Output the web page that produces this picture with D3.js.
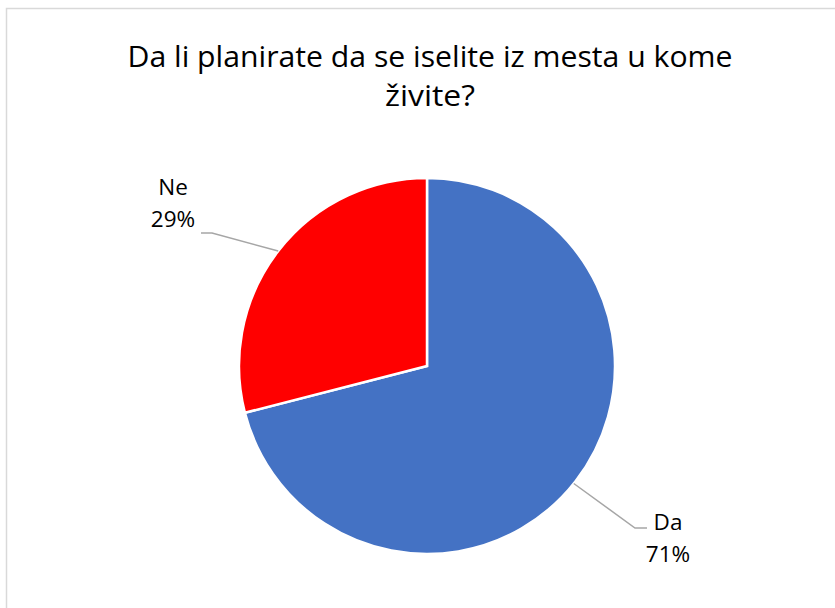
<!DOCTYPE html>
<html>
<head>
<meta charset="utf-8">
<script src="https://cdn.jsdelivr.net/npm/d3@7"></script>
<style>
  html, body { margin: 0; padding: 0; background: #fff; }
  svg { display: block; font-family: "Open Sans", "Liberation Sans", sans-serif; }
</style>
</head>
<body>
<div id="chart"></div>
<script>
// chart data
const titleLines = ['Da li planirate da se iselite iz mesta u kome', 'živite?'];
const titleWidths = [605, 90];
const categories = ['Da', 'Ne'];
const values = [71, 29];
const colors = ['#4472C4', '#FF0000'];

const width = 835, height = 608;
const cx = 427, cy = 366, radius = 188;

const svg = d3.select('#chart')
  .append('svg')
  .attr('width', width)
  .attr('height', height);

// chart area border
svg.append('rect')
  .attr('x', 6.5).attr('y', 8.5)
  .attr('width', 900).attr('height', 700)
  .attr('fill', '#fff')
  .attr('stroke', '#d9d9d9')
  .attr('stroke-width', 1.5);

// title
svg.append('g')
  .selectAll('text')
  .data(titleLines)
  .join('text')
    .attr('x', 430)
    .attr('y', (d, i) => 67 + i * 39)
    .attr('text-anchor', 'middle')
    .attr('font-size', 28.5)
    .attr('fill', '#000')
    .attr('textLength', (d, i) => titleWidths[i])
    .attr('lengthAdjust', 'spacingAndGlyphs')
    .text(d => d);

const data = categories.map((c, i) => ({ name: c, value: values[i], color: colors[i] }));

const pie = d3.pie()
  .value(d => d.value)
  .sort(null);

const arc = d3.arc()
  .innerRadius(0)
  .outerRadius(radius);

const arcs = pie(data);

const pieGroup = svg.append('g')
  .attr('transform', `translate(${cx},${cy})`);

pieGroup.selectAll('path')
  .data(arcs)
  .join('path')
    .attr('d', arc)
    .attr('fill', d => d.data.color)
    .attr('stroke', '#fff')
    .attr('stroke-width', 2.5);

// leader lines and labels (offsets from pie centre)
const labelOpts = {
  Da: { rim: 2.246, elbow: [208, 162], end: [220, 162], text: [241, 164] },
  Ne: { rim: 5.37, elbow: [-215, -133], end: [-226, -133], text: [-254, -171] }
};

arcs.forEach(a => {
  const o = labelOpts[a.data.name];
  const start = [Math.sin(o.rim) * radius, -Math.cos(o.rim) * radius];
  pieGroup.append('polyline')
    .attr('points', [start, o.elbow, o.end].map(p => p.join(',')).join(' '))
    .attr('fill', 'none')
    .attr('stroke', '#a6a6a6')
    .attr('stroke-width', 1.5);

  const t = pieGroup.append('text')
    .attr('x', o.text[0])
    .attr('y', o.text[1])
    .attr('text-anchor', 'middle')
    .attr('font-size', 22.5)
    .attr('fill', '#000');
  t.append('tspan').attr('x', o.text[0]).text(a.data.name);
  t.append('tspan').attr('x', o.text[0]).attr('dy', 32)
    .text(Math.round(a.value / d3.sum(values) * 100) + '%');
});
</script>
</body>
</html>
